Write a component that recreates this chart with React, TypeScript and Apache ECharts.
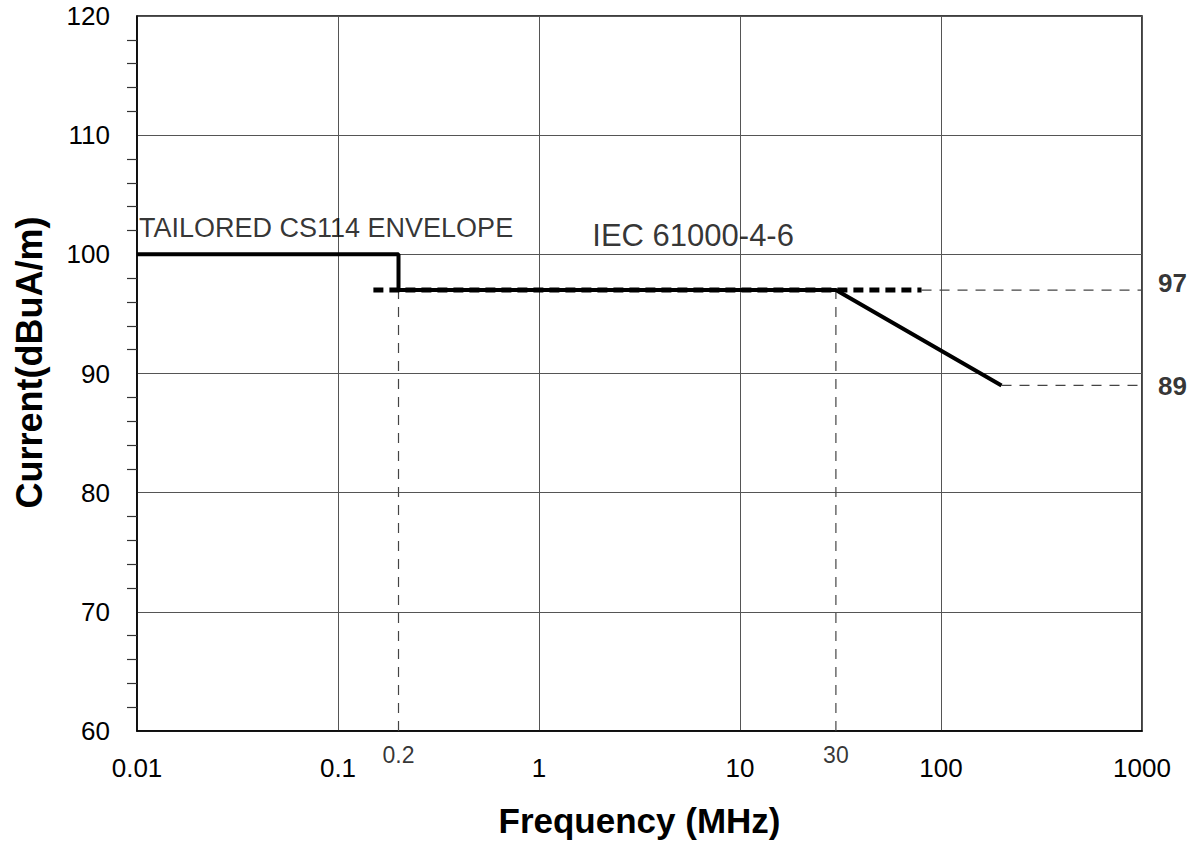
import React, { useEffect, useRef } from "react";
import * as echarts from "echarts";

const xTicks = [0.01, 0.1, 1, 10, 100, 1000];
const xTickLabels = ["0.01", "0.1", "1", "10", "100", "1000"];
const extraXTicks = [0.2, 30];
const extraXTickLabels = ["0.2", "30"];

// Tailored CS114 envelope (MHz, dBuA/m)
const cs114Freq = [0.01, 0.2, 0.2, 30, 200];
const cs114Level = [100, 100, 97, 97, 89];

// IEC 61000-4-6 level
const iecFreq = [0.15, 80];
const iecLevel = [97, 97];

// thin dashed reference lines
const refLines: [number, number][][] = [
  [[0.2, 60], [0.2, 97]],
  [[30, 60], [30, 97]],
  [[80, 97], [1000, 97]],
  [[200, 89], [1000, 89]],
];

const levelMarks = [97, 89];

const FONT = "Liberation Sans, Arial, Helvetica, sans-serif";

export default function App() {
  const ref = useRef<HTMLDivElement>(null);
  useEffect(() => {
    if (!ref.current) return;
    const chart = echarts.init(ref.current, null, { renderer: "svg" });
    const pair = (xs: number[], ys: number[]) => xs.map((x, i) => [x, ys[i]]);
    const series: any[] = [];
    refLines.forEach((seg) => {
      series.push({
        type: "line",
        data: seg,
        symbol: "none",
        lineStyle: { color: "#444", width: 1.2, type: [10, 8] },
        z: 2,
      });
    });
    series.push({
      type: "line",
      data: pair(iecFreq, iecLevel),
      symbol: "none",
      lineStyle: { color: "#000", width: 5, type: [10, 6] },
      z: 3,
    });
    series.push({
      type: "line",
      data: pair(cs114Freq, cs114Level),
      symbol: "none",
      lineStyle: { color: "#000", width: 4 },
      z: 4,
    });
    // annotation texts anchored at data coordinates
    series.push({
      type: "scatter",
      symbolSize: 0,
      clip: false,
      z: 5,
      data: [
        { value: [0.01, 102.2], label: { formatter: "TAILORED CS114 ENVELOPE", fontSize: 27 } },
        { value: [1.8, 101.6], label: { formatter: "IEC 61000-4-6", fontSize: 31 } },
        ...levelMarks.map((v, i) => ({
          value: [1000, v],
          label: {
            formatter: String(v),
            fontSize: 26,
            fontWeight: "bold",
            distance: 16,
            offset: [0, i === 0 ? -7 : 1],
          },
        })),
      ],
      label: {
        show: true,
        position: "right",
        distance: 2,
        color: "#000",
        fontFamily: FONT,
      },
    });
    series.push({
      type: "scatter",
      symbolSize: 0,
      clip: false,
      z: 5,
      data: extraXTicks.map((x, i) => ({ value: [x, 60], label: { formatter: extraXTickLabels[i] } })),
      label: {
        show: true,
        position: "bottom",
        distance: 12,
        color: "#000",
        fontSize: 23,
        fontFamily: FONT,
      },
    });

    chart.setOption({
      animation: false,
      backgroundColor: "#fff",
      grid: {
        left: 137,
        top: 13,
        width: 1005,
        height: 718,
        show: true,
        borderColor: "#000",
        borderWidth: 1.5,
        backgroundColor: "transparent",
      },
      xAxis: {
        type: "log",
        logBase: 10,
        min: 0.01,
        max: 1000,
        name: "Frequency (MHz)",
        nameLocation: "middle",
        nameGap: 72,
        nameTextStyle: { fontSize: 35, fontWeight: "bold", color: "#000", fontFamily: FONT },
        axisLine: { show: true, lineStyle: { color: "#000", width: 1.5 } },
        axisTick: { show: false },
        axisLabel: {
          margin: 24,
          fontSize: 26,
          color: "#000",
          fontFamily: FONT,
          formatter: (v: number) => {
            const i = xTicks.findIndex((t) => Math.abs(Math.log10(t) - Math.log10(v)) < 1e-6);
            return i >= 0 ? xTickLabels[i] : "";
          },
        },
        splitLine: { show: true, lineStyle: { color: "#555", width: 1 } },
      },
      yAxis: {
        type: "value",
        min: 60,
        max: 120,
        interval: 10,
        name: "Current(dBuA/m)",
        nameLocation: "middle",
        nameGap: 90,
        nameTextStyle: {
          fontSize: 36,
          fontWeight: "bold",
          color: "#000",
          fontFamily: FONT,
          padding: [0, 0, 0, 22],
        },
        axisLine: { show: true, lineStyle: { color: "#000", width: 1.5 } },
        axisTick: { show: false },
        minorTick: { show: true, splitNumber: 5, length: 10, lineStyle: { color: "#333", width: 1.2 } },
        axisLabel: {
          margin: 27,
          fontSize: 26,
          lineHeight: 26,
          color: "#000",
          fontFamily: FONT,
          padding: [6, 0, 0, 0],
        },
        splitLine: { show: true, lineStyle: { color: "#555", width: 1 } },
      },
      series,
    });
    return () => chart.dispose();
  }, []);
  return (
    <div
      ref={ref}
      style={{ position: "absolute", left: 0, top: 0, width: 1198, height: 843, background: "#fff" }}
    />
  );
}
